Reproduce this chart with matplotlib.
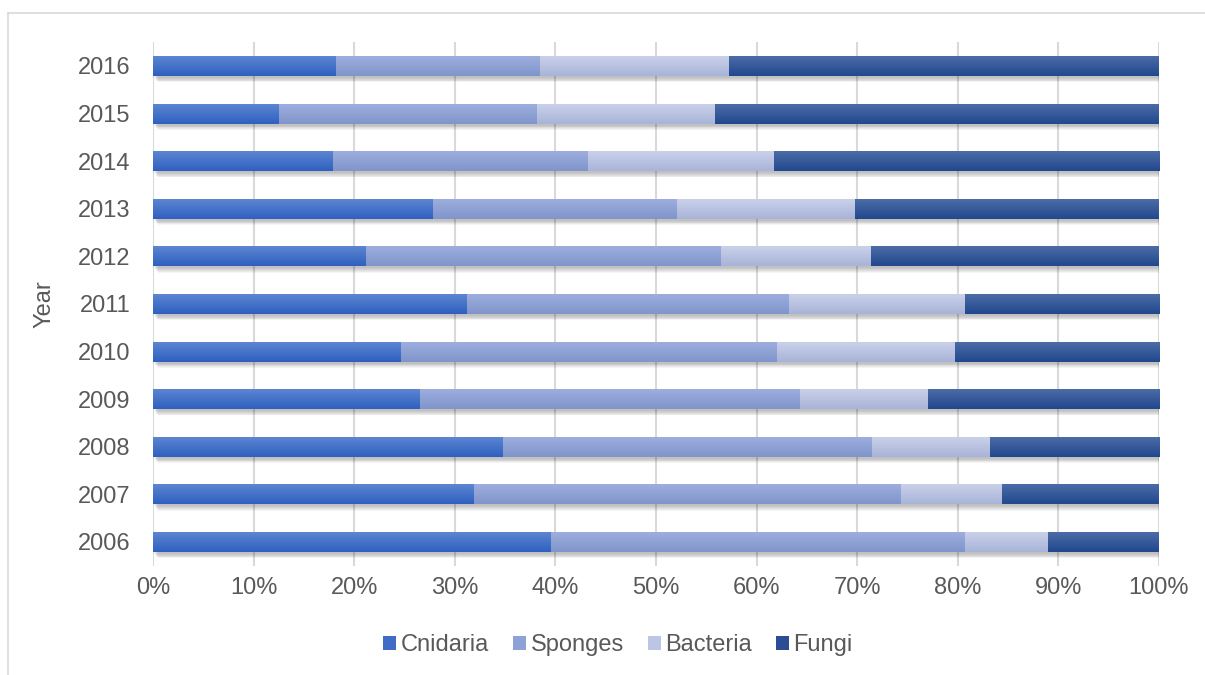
import numpy as np
import matplotlib
matplotlib.use("Agg")
import matplotlib.pyplot as plt
from matplotlib.colors import LinearSegmentedColormap
from matplotlib.patches import Patch
from matplotlib.lines import Line2D
import matplotlib.transforms as mtransforms

plt.rcParams['font.family'] = ['Liberation Sans', 'DejaVu Sans']

#----Data (share of each group per year, %)----
years = ["2006", "2007", "2008", "2009", "2010", "2011", "2012", "2013", "2014", "2015", "2016"]
cnidaria = [39.6, 31.9, 34.8, 26.5, 24.7, 31.2, 21.2, 27.8, 17.9, 12.5, 18.2]
sponges = [41.1, 42.5, 36.7, 37.8, 37.3, 32.0, 35.3, 24.3, 25.3, 25.7, 20.3]
bacteria = [8.3, 10.0, 11.7, 12.7, 17.7, 17.5, 14.9, 17.7, 18.5, 17.7, 18.8]
fungi = [11.0, 15.6, 16.8, 23.0, 20.3, 19.3, 28.6, 30.2, 38.3, 44.1, 42.7]
series_names = ["Cnidaria", "Sponges", "Bacteria", "Fungi"]
#----End Data----

# (top colour, bottom colour, legend colour) for the vertical gradient of each series
grad = [("#5d86d2", "#2e60bf", "#3f6cc6"),
        ("#9daede", "#8095cb", "#8ea2d6"),
        ("#c9d1ea", "#a9b3d8", "#bcc6e4"),
        ("#4c6ca7", "#21478d", "#2a4d93")]
text_col = "#595959"
grid_col = "#d9d9d9"

fig = plt.figure(figsize=(12.05, 6.75), dpi=100)
ax = fig.add_axes([153/1205, 1-565.8/675, (1159-153)/1205, (565.8-42.2)/675])

# outer frame of the chart area
fig.add_artist(Line2D([8/1205, 8/1205], [0, 1-13/675], color=grid_col, lw=1.2, transform=fig.transFigure))
fig.add_artist(Line2D([8/1205, 1], [1-13/675, 1-13/675], color=grid_col, lw=1.2, transform=fig.transFigure))

y = np.arange(len(years))
h = 0.42
data = [np.array(cnidaria), np.array(sponges), np.array(bacteria), np.array(fungi)]
total = np.sum(data, axis=0)
data = [d / total * 100 for d in data]

# soft drop shadow under each full bar
for k in range(6):
    off = mtransforms.ScaledTranslation((1.0 + 0.5*k)/72, -(1.5 + 0.6*k)/72, fig.dpi_scale_trans)
    ax.barh(y, 100, height=h, left=0, color="black", alpha=0.045, lw=0,
            transform=ax.transData + off, zorder=1)

left = np.zeros(len(years))
for d, (ctop, cbot, _) in zip(data, grad):
    cmap = LinearSegmentedColormap.from_list("g", [cbot, ctop])
    bars = ax.barh(y, d, height=h, left=left, color=ctop, lw=0, zorder=2)
    for b in bars:
        x0, y0 = b.get_x(), b.get_y()
        im = ax.imshow(np.linspace(0, 1, 64).reshape(-1, 1), cmap=cmap, aspect="auto",
                       extent=[x0, x0 + b.get_width(), y0, y0 + b.get_height()],
                       origin="lower", zorder=3, interpolation="bilinear")
        im.set_clip_path(b)
    left += d

ax.set_xlim(0, 100)
ax.set_ylim(-0.5, len(years) - 0.5)
ax.set_aspect("auto")
ax.set_xticks(np.arange(0, 101, 10))
ax.set_xticklabels([f"{v}%" for v in range(0, 101, 10)])
ax.set_yticks(y)
ax.set_yticklabels(years)
ax.tick_params(length=0, labelsize=17, colors=text_col, pad=8)
ax.tick_params(axis="y", pad=16)
ax.xaxis.grid(True, color=grid_col, lw=1.5, zorder=0)
ax.set_axisbelow(True)
for s in ax.spines.values():
    s.set_visible(False)
ax.set_ylabel("Year", fontsize=17, color=text_col, labelpad=16)

handles = [Patch(facecolor=g[2], edgecolor="none") for g in grad]
fig.legend(handles, series_names, loc="center", bbox_to_anchor=(618/1205, 1-645/675),
           ncol=4, frameon=False, fontsize=17, labelcolor=text_col,
           handlelength=0.55, handleheight=0.55, handletextpad=0.2, columnspacing=1.0)

fig.savefig("out.png", dpi=100)
